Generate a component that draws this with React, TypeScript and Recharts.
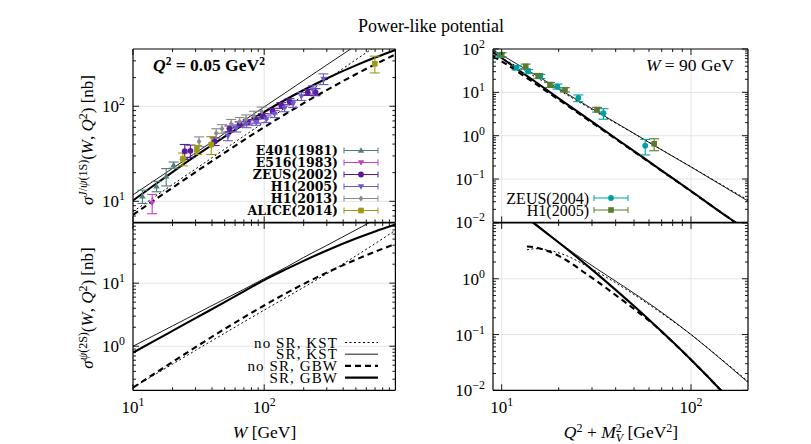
import React from 'react'
import { ComposedChart, Line, Scatter, ErrorBar, XAxis, YAxis, ReferenceLine } from 'recharts'

const FONT = "'Liberation Serif', 'DejaVu Serif', serif"
const WIDE_BOLD = "'DejaVu Serif', 'Liberation Serif', serif"

// ---- W dependence (GeV), Q^2 = 0.05 GeV^2 ----
const wGrid = [10, 15, 20, 30, 50, 70, 100, 150, 200, 300, 500, 700, 1000]
const jpsiNoSrKst = [7.8, 11.4, 15.0, 21.9, 35.4, 48.6, 67.9, 99.5, 130, 190, 309, 423, 592]
const jpsiSrKst = [11.7, 17.0, 22.2, 32.3, 51.9, 70.8, 98.4, 143, 187, 272, 435, 595, 827]
const jpsiNoSrGbw = [7.2, 10.6, 13.9, 20.3, 32.5, 44, 60.2, 85, 107.6, 148, 217, 276, 351]
const jpsiSrGbw = [10.2, 15.3, 20.3, 30, 48, 64.5, 87, 119.8, 148, 196, 269, 325, 391]

const psi2NoSrKst = [0.22, 0.364, 0.52, 0.86, 1.61, 2.43, 3.74, 6.08, 8.59, 14.1, 27.1, 42.4, 68.9]
const psi2SrKst = [1.0, 1.54, 2.1, 3.24, 5.6, 8.0, 11.8, 18.3, 25.6, 39.7, 70, 102, 152]
const psi2NoSrGbw = [0.22, 0.382, 0.563, 0.966, 1.88, 2.87, 4.43, 7.09, 9.73, 14.7, 23.6, 31.5, 41.9]
const psi2SrGbw = [0.79, 1.26, 1.75, 2.79, 5.0, 7.4, 11.2, 17.0, 22.6, 33, 51, 66, 85]

// data, J/psi photoproduction
const e401W = [11.8, 15.1, 17.9, 20.4]
const e401Sig = [11.3, 14.4, 18.3, 24.1]
const e401Err = [1.8, 1.8, 3.8, 1.8]
const e516W = [14.0]
const e516Sig = [9.6]
const e516Err = [2.2]
const zeus02W = [24.8, 27.4, 41.9, 54.5, 65, 75, 87, 98, 116, 135, 156, 215, 246]
const zeus02Sig = [33.6, 34.0, 42.6, 58, 64.5, 68, 71.5, 78.6, 89, 102, 112, 140, 141]
const zeus02Err = [6, 5, 4, 4, 4, 4.5, 5, 5, 6, 7, 8, 10, 12]
const h105W = [52.9, 61.3, 73.3, 86.9, 103.6, 120, 143, 166, 192, 235, 283]
const h105Sig = [48.4, 58.6, 64.5, 68, 73.3, 83, 95.6, 106, 127, 149, 194]
const h105Err = [5, 5, 5, 5, 6, 7, 8, 9, 12, 15, 25]
const h113W = [31.9, 43.1, 47.7, 56, 65, 72.8, 83.5, 95.6]
const h113Sig = [42.6, 52, 58, 65.6, 69, 73, 79.6, 88]
const h113Err = [5, 6, 6, 7, 7, 8, 9, 10]
const aliceW = [24, 30.7, 39.5, 697]
const aliceSig = [27.9, 34.9, 39.5, 280]
const aliceErr = [4.3, 3.8, 8.4, 56]

// ---- Q^2 + M_V^2 dependence (GeV^2), W = 90 GeV ----
const qGrid = [9, 10, 12, 15, 20, 30, 50, 70, 100, 150, 200]
const qJpsiNoSrKst = [80, 62, 40, 23, 11.3, 4.0, 1.12, 0.475, 0.192, 0.068, 0.033]
const qJpsiSrKst = [95, 73, 45.5, 25.5, 12.1, 4.2, 1.13, 0.47, 0.19, 0.066, 0.031]
const qJpsiNoSrGbw = [68, 52, 31, 16, 6.8, 2.0, 0.43, 0.155, 0.052, 0.015, 0.0062]
const qJpsiSrGbw = [85, 62, 35, 17.8, 7.3, 2.1, 0.44, 0.157, 0.053, 0.015, 0.0063]

const qPsi2NoSrKstX = [13.6, 15, 18, 22, 28, 36, 50, 70, 100, 150, 200]
const qPsi2NoSrKst = [3.3, 3.45, 3.2, 2.6, 1.7, 1.05, 0.52, 0.24, 0.1, 0.0326, 0.0145]
const qPsi2SrKstX = [13.6, 15, 18, 24, 30, 44, 66, 100, 150, 200]
const qPsi2SrKst = [13.5, 10.06, 6.04, 2.9, 1.72, 0.734, 0.289, 0.1, 0.0321, 0.0139]
const qPsi2NoSrGbwX = [13.6, 15, 18, 22, 28, 32, 44, 54, 66, 80, 100, 120, 140, 160]
const qPsi2NoSrGbw = [3.8, 3.65, 3.05, 2.15, 1.22, 0.89, 0.4, 0.235, 0.135, 0.0735, 0.0352, 0.0189, 0.011, 0.0068]
const qPsi2SrGbwX = [13.6, 14.7, 17, 20, 24, 30, 40, 50, 66, 80, 100, 120, 140, 160]
const qPsi2SrGbw = [12.2, 10, 6.86, 4.47, 2.73, 1.46, 0.633, 0.324, 0.137, 0.0742, 0.0354, 0.019, 0.011, 0.0068]

const zeus04X = [9.8, 12.0, 13.8, 16, 19.7, 25.4, 34.5, 57.3]
const zeus04Sig = [72, 37, 30.5, 23.3, 13.7, 7.4, 3.3, 0.59]
const zeus04Err = [8, 4, 3, 2.5, 1.8, 1.3, 0.9, 0.23]
const h105qX = [10.0, 13.4, 15.6, 18, 21.6, 31.9, 63.9]
const h105qSig = [74, 39.8, 24.2, 15, 11.5, 4.0, 0.65]
const h105qErr = [8, 5, 3, 2, 1.3, 0.5, 0.2]

// ticks
const wMinor = [20, 30, 40, 50, 60, 70, 80, 90, 200, 300, 400, 500, 600, 700, 800, 900]
const qMinor = [20, 30, 40, 50, 60, 70, 80, 90]
const decadeMinor = (lo: number, hi: number) => {
  const out: number[] = []
  for (let d = lo; d < hi; d *= 10) for (let k = 2; k <= 9; k++) out.push(+(d * k).toPrecision(3))
  return out
}

type Pt = { x: number; y: number; e?: number }
type Kind = 'up' | 'down' | 'circle' | 'diamond' | 'square'
type CurveSpec = { key: string; data: Pt[]; width: number; dash?: string }
type SetSpec = { key: string; data: Pt[]; color: string; kind: Kind }

const zip = (xs: number[], ys: number[], es?: number[]): Pt[] =>
  xs.map((x, i) => ({ x, y: ys[i], e: es ? es[i] : undefined }))

const STY = {
  noSrKst: { width: 1, dash: '2 2.5' },
  srKst: { width: 0.9 },
  noSrGbw: { width: 2.1, dash: '6 4' },
  srGbw: { width: 2.1 },
}

const C = {
  e401: '#4f7c7c',
  e516: '#c042c0',
  zeus02: '#5b1a9a',
  h105: '#6a5acd',
  h113: '#8a8a8a',
  alice: '#9a9a14',
  zeus04: '#00a0a0',
  h105q: '#5a7a30',
}

function Mark({ cx, cy, kind, color }: { cx: number; cy: number; kind: Kind; color: string }) {
  const s = 3.2
  if (kind === 'circle') return <circle cx={cx} cy={cy} r={2.9} fill={color} />
  if (kind === 'square') return <rect x={cx - 2.8} y={cy - 2.8} width={5.6} height={5.6} fill={color} />
  if (kind === 'diamond') return <path d={`M${cx},${cy - 3}L${cx + 2.4},${cy}L${cx},${cy + 3}L${cx - 2.4},${cy}Z`} fill={color} />
  if (kind === 'up') return <path d={`M${cx},${cy - s}L${cx + s},${cy + s * 0.7}L${cx - s},${cy + s * 0.7}Z`} fill={color} />
  return <path d={`M${cx},${cy + s}L${cx + s},${cy - s * 0.7}L${cx - s},${cy - s * 0.7}Z`} fill={color} />
}

function Pow({ x, y, n, anchor, size = 17 }: { x: number; y: number; n: number; anchor: string; size?: number }) {
  return (
    <text x={x} y={y} textAnchor={anchor as any} fontFamily={FONT} fontSize={size} fill="#000">
      10
      <tspan dy={-7} fontSize={size * 0.7}>{n < 0 ? `\u2212${-n}` : `${n}`}</tspan>
    </text>
  )
}

type Side = 'bottom' | 'top' | 'left' | 'right'
const tickRenderer = (side: Side, majors: number[], labels: number[]) => (props: any) => {
  const { x, y, payload } = props
  const v = payload.value
  const len = majors.includes(v) ? 6 : 3
  const n = Math.round(Math.log10(v))
  const show = labels.includes(v)
  let ln
  if (side === 'bottom') ln = <line x1={x} x2={x} y1={y} y2={y - len} stroke="#000" strokeWidth={0.9} />
  else if (side === 'top') ln = <line x1={x} x2={x} y1={y} y2={y + len} stroke="#000" strokeWidth={0.9} />
  else if (side === 'left') ln = <line x1={x} x2={x + len} y1={y} y2={y} stroke="#000" strokeWidth={0.9} />
  else ln = <line x1={x} x2={x - len} y1={y} y2={y} stroke="#000" strokeWidth={0.9} />
  return (
    <g>
      {ln}
      {show && side === 'bottom' && <Pow x={x} y={y + 23} n={n} anchor="middle" />}
      {show && side === 'left' && <Pow x={x - 8} y={y + 6} n={n} anchor="end" />}
    </g>
  )
}

interface PanelProps {
  left: number
  top: number
  width: number
  height: number
  xDomain: [number, number]
  yDomain: [number, number]
  xMajor: number[]
  xMinor: number[]
  yMajor: number[]
  yMinor: number[]
  xLabels: number[]
  yLabels: number[]
  xGrid: number[]
  yGrid: number[]
  curves: CurveSpec[]
  sets?: SetSpec[]
}

// outer space around the plot area; each axis takes 1px of it
const M = { top: 14, right: 14, bottom: 36, left: 60 }
const AX = { stroke: '#000', strokeWidth: 1.2 }

function Panel(p: PanelProps) {
  const xt = [...p.xMajor, ...p.xMinor].sort((a, b) => a - b)
  const yt = [...p.yMajor, ...p.yMinor].sort((a, b) => a - b)
  const common = { type: 'number' as const, scale: 'log' as const, allowDataOverflow: true, interval: 0 as const, tickLine: false, tickSize: 0, tickMargin: 0 }
  const margin = { top: M.top - 1, right: M.right - 1, bottom: M.bottom - 1, left: M.left - 1 }
  return (
    <div style={{ position: 'absolute', left: p.left - M.left, top: p.top - M.top }}>
      <ComposedChart width={p.width + M.left + M.right} height={p.height + M.top + M.bottom} margin={margin}>
        <XAxis {...common} dataKey="x" domain={p.xDomain} ticks={xt} height={1} axisLine={AX} tick={tickRenderer('bottom', p.xMajor, p.xLabels)} />
        <XAxis {...common} xAxisId="t" orientation="top" dataKey="x" domain={p.xDomain} ticks={xt} height={1} axisLine={AX} tick={tickRenderer('top', p.xMajor, [])} />
        <YAxis {...common} dataKey="y" domain={p.yDomain} ticks={yt} width={1} axisLine={AX} tick={tickRenderer('left', p.yMajor, p.yLabels)} />
        <YAxis {...common} yAxisId="r" orientation="right" dataKey="y" domain={p.yDomain} ticks={yt} width={1} axisLine={AX} tick={tickRenderer('right', p.yMajor, [])} />
        {p.xGrid.map((v) => (
          <ReferenceLine key={`gx${v}`} x={v} stroke="#e4e4e4" strokeWidth={1} />
        ))}
        {p.yGrid.map((v) => (
          <ReferenceLine key={`gy${v}`} y={v} stroke="#e4e4e4" strokeWidth={1} />
        ))}
        {p.curves.map((c) => (
          <Line
            key={c.key}
            data={c.data}
            dataKey="y"
            type="monotone"
            dot={false}
            stroke="#000"
            strokeWidth={c.width}
            strokeDasharray={c.dash}
            isAnimationActive={false}
          />
        ))}
        {(p.sets || []).map((s) => (
          <Scatter
            key={s.key}
            data={s.data}
            dataKey="y"
            isAnimationActive={false}
            shape={(q: any) => <Mark cx={q.cx} cy={q.cy} kind={s.kind} color={s.color} />}
          >
            <ErrorBar dataKey="e" direction="y" width={5} stroke={s.color} strokeWidth={1.1} />
          </Scatter>
        ))}
      </ComposedChart>
    </div>
  )
}

function LegendSym({ x1, x2, y, color, kind }: { x1: number; x2: number; y: number; color: string; kind: Kind }) {
  return (
    <g>
      <line x1={x1} x2={x2} y1={y} y2={y} stroke={color} strokeWidth={1} />
      <line x1={x1} x2={x1} y1={y - 3} y2={y + 3} stroke={color} strokeWidth={1} />
      <line x1={x2} x2={x2} y1={y - 3} y2={y + 3} stroke={color} strokeWidth={1} />
      <Mark cx={(x1 + x2) / 2} cy={y} kind={kind} color={color} />
    </g>
  )
}

const tlSets: SetSpec[] = [
  { key: 'E401(1981)', data: zip(e401W, e401Sig, e401Err), color: C.e401, kind: 'up' },
  { key: 'E516(1983)', data: zip(e516W, e516Sig, e516Err), color: C.e516, kind: 'down' },
  { key: 'ZEUS(2002)', data: zip(zeus02W, zeus02Sig, zeus02Err), color: C.zeus02, kind: 'circle' },
  { key: 'H1(2005)', data: zip(h105W, h105Sig, h105Err), color: C.h105, kind: 'down' },
  { key: 'H1(2013)', data: zip(h113W, h113Sig, h113Err), color: C.h113, kind: 'diamond' },
  { key: 'ALICE(2014)', data: zip(aliceW, aliceSig, aliceErr), color: C.alice, kind: 'square' },
]
const trSets: SetSpec[] = [
  { key: 'ZEUS(2004)', data: zip(zeus04X, zeus04Sig, zeus04Err), color: C.zeus04, kind: 'circle' },
  { key: 'H1(2005)', data: zip(h105qX, h105qSig, h105qErr), color: C.h105q, kind: 'square' },
]

const curveLegend = [
  { label: 'no SR, KST', ...STY.noSrKst },
  { label: 'SR, KST', ...STY.srKst },
  { label: 'no SR, GBW', ...STY.noSrGbw },
  { label: 'SR, GBW', ...STY.srGbw },
]

export default function App() {
  const L = { left: 133.3, width: 262.4 }
  const R = { left: 493.3, width: 255 }
  const T = { top: 49.3, height: 173.4 }
  const B = { top: 222.7, height: 167.3 }
  return (
    <div style={{ position: 'absolute', left: 0, top: 0, width: 811, height: 444, background: '#fff', fontFamily: FONT }}>
      <Panel
        {...L}
        {...T}
        xDomain={[10, 1000]}
        yDomain={[6, 400]}
        xMajor={[10, 100]}
        xMinor={wMinor}
        yMajor={[10, 100]}
        yMinor={[7, 8, 9, 20, 30, 40, 50, 60, 70, 80, 90, 200, 300]}
        xLabels={[]}
        yLabels={[10, 100]}
        xGrid={[100]}
        yGrid={[10, 100]}
        curves={[
          { key: 'a', data: zip(wGrid, jpsiNoSrKst), ...STY.noSrKst },
          { key: 'b', data: zip(wGrid, jpsiSrKst), ...STY.srKst },
          { key: 'c', data: zip(wGrid, jpsiNoSrGbw), ...STY.noSrGbw },
          { key: 'd', data: zip(wGrid, jpsiSrGbw), ...STY.srGbw },
        ]}
        sets={tlSets}
      />
      <Panel
        {...L}
        {...B}
        xDomain={[10, 1000]}
        yDomain={[0.2, 90]}
        xMajor={[10, 100]}
        xMinor={wMinor}
        yMajor={[1, 10]}
        yMinor={[0.3, 0.4, 0.5, 0.6, 0.7, 0.8, 0.9, 2, 3, 4, 5, 6, 7, 8, 9, 20, 30, 40, 50, 60, 70, 80]}
        xLabels={[10, 100]}
        yLabels={[1, 10]}
        xGrid={[100]}
        yGrid={[1, 10]}
        curves={[
          { key: 'a', data: zip(wGrid, psi2NoSrKst), ...STY.noSrKst },
          { key: 'b', data: zip(wGrid, psi2SrKst), ...STY.srKst },
          { key: 'c', data: zip(wGrid, psi2NoSrGbw), ...STY.noSrGbw },
          { key: 'd', data: zip(wGrid, psi2SrGbw), ...STY.srGbw },
        ]}
      />
      <Panel
        {...R}
        {...T}
        xDomain={[9, 200]}
        yDomain={[0.01, 100]}
        xMajor={[10, 100]}
        xMinor={qMinor}
        yMajor={[0.01, 0.1, 1, 10, 100]}
        yMinor={decadeMinor(0.01, 100)}
        xLabels={[]}
        yLabels={[0.01, 0.1, 1, 10, 100]}
        xGrid={[10, 100]}
        yGrid={[0.1, 1, 10]}
        curves={[
          { key: 'a', data: zip(qGrid, qJpsiNoSrKst), ...STY.noSrKst },
          { key: 'b', data: zip(qGrid, qJpsiSrKst), ...STY.srKst },
          { key: 'c', data: zip(qGrid, qJpsiNoSrGbw), ...STY.noSrGbw },
          { key: 'd', data: zip(qGrid, qJpsiSrGbw), ...STY.srGbw },
        ]}
        sets={trSets}
      />
      <Panel
        {...R}
        {...B}
        xDomain={[9, 200]}
        yDomain={[0.01, 10]}
        xMajor={[10, 100]}
        xMinor={qMinor}
        yMajor={[0.01, 0.1, 1, 10]}
        yMinor={decadeMinor(0.01, 10)}
        xLabels={[10, 100]}
        yLabels={[0.01, 0.1, 1]}
        xGrid={[10, 100]}
        yGrid={[0.1, 1]}
        curves={[
          { key: 'a', data: zip(qPsi2NoSrKstX, qPsi2NoSrKst), ...STY.noSrKst },
          { key: 'b', data: zip(qPsi2SrKstX, qPsi2SrKst), ...STY.srKst },
          { key: 'c', data: zip(qPsi2NoSrGbwX, qPsi2NoSrGbw), ...STY.noSrGbw },
          { key: 'd', data: zip(qPsi2SrGbwX, qPsi2SrGbw), ...STY.srGbw },
        ]}
      />

      <svg width={811} height={444} style={{ position: 'absolute', left: 0, top: 0, pointerEvents: 'none' }} fontFamily={FONT}>
        <text x={431} y={32} textAnchor="middle" fontSize={18}>Power-like potential</text>

        <text x={153} y={71} fontSize={17.5} fontWeight="bold">
          <tspan fontStyle="italic">Q</tspan>
          <tspan dy={-6} fontSize={11.5}>2</tspan>
          <tspan dy={6}> = 0.05 GeV</tspan>
          <tspan dy={-6} fontSize={11.5}>2</tspan>
        </text>
        <text x={734} y={71} fontSize={17.5} textAnchor="end">
          <tspan fontStyle="italic">W</tspan> = 90 GeV
        </text>

        {tlSets.map((s, i) => (
          <g key={s.key}>
            <text x={338} y={155 + i * 12} textAnchor="end" fontSize={12.5} fontWeight="bold" fontFamily={WIDE_BOLD}>{s.key}</text>
            <LegendSym x1={344} x2={378} y={150.5 + i * 12} color={s.color} kind={s.kind} />
          </g>
        ))}
        {trSets.map((s, i) => (
          <g key={s.key}>
            <text x={589} y={203.5 + i * 12} textAnchor="end" fontSize={16}>{s.key}</text>
            <LegendSym x1={594} x2={628} y={198 + i * 12} color={s.color} kind={s.kind} />
          </g>
        ))}
        {curveLegend.map((c, i) => (
          <g key={c.label}>
            <text x={338} y={347.5 + i * 11.7} textAnchor="end" fontSize={15} letterSpacing={1.1}>{c.label}</text>
            <line x1={345} x2={378} y1={342.5 + i * 11.7} y2={342.5 + i * 11.7} stroke="#000" strokeWidth={c.width} strokeDasharray={c.dash} />
          </g>
        ))}

        <text transform="translate(93,140) rotate(-90)" textAnchor="middle" fontSize={17}>
          <tspan fontStyle="italic">σ</tspan>
          <tspan dy={-6} fontSize={12}><tspan fontStyle="italic">J</tspan>/<tspan fontStyle="italic">ψ</tspan>(1S)</tspan>
          <tspan dy={6}>(</tspan><tspan fontStyle="italic">W</tspan>, <tspan fontStyle="italic">Q</tspan>
          <tspan dy={-6} fontSize={12}>2</tspan>
          <tspan dy={6}>) [nb]</tspan>
        </text>
        <text transform="translate(93,308) rotate(-90)" textAnchor="middle" fontSize={17}>
          <tspan fontStyle="italic">σ</tspan>
          <tspan dy={-6} fontSize={12}><tspan fontStyle="italic">ψ</tspan>(2S)</tspan>
          <tspan dy={6}>(</tspan><tspan fontStyle="italic">W</tspan>, <tspan fontStyle="italic">Q</tspan>
          <tspan dy={-6} fontSize={12}>2</tspan>
          <tspan dy={6}>) [nb]</tspan>
        </text>

        <text x={264.5} y={438} textAnchor="middle" fontSize={17.5}>
          <tspan fontStyle="italic">W</tspan>  [GeV]
        </text>
        <text x={621} y={438} textAnchor="middle" fontSize={17.5}>
          <tspan fontStyle="italic">Q</tspan>
          <tspan dy={-6} fontSize={12}>2</tspan>
          <tspan dy={6}> + </tspan>
          <tspan fontStyle="italic">M</tspan>
          <tspan dy={-6} fontSize={12}>2</tspan>
          <tspan dy={10} dx={-6} fontSize={12} fontStyle="italic">V</tspan>
          <tspan dy={-4}>  [GeV</tspan>
          <tspan dy={-6} fontSize={12}>2</tspan>
          <tspan dy={6}>]</tspan>
        </text>
      </svg>
    </div>
  )
}
